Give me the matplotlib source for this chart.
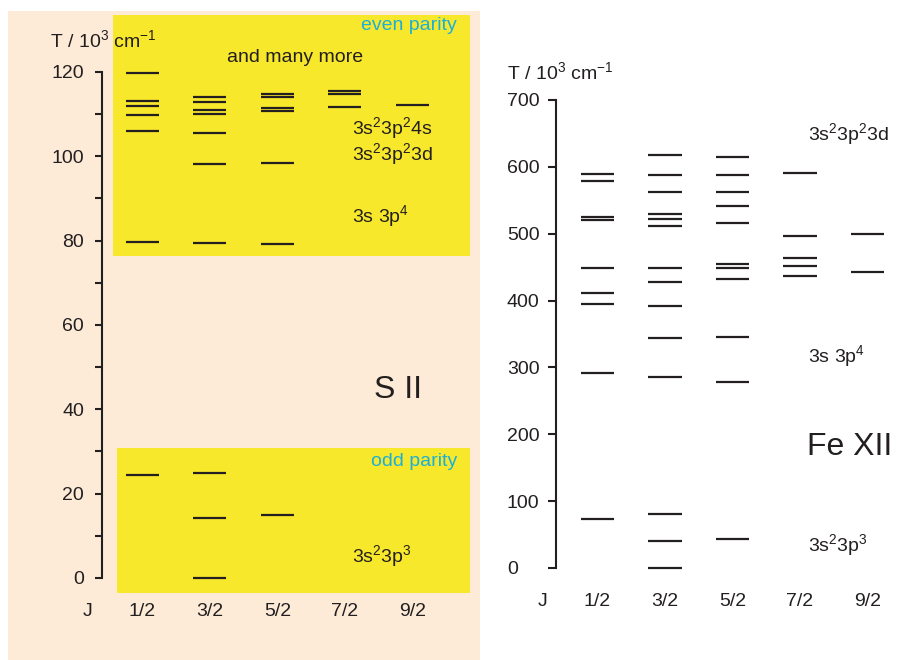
import matplotlib
matplotlib.use("Agg")
import matplotlib.pyplot as plt
from matplotlib.patches import Rectangle
from matplotlib.ticker import FixedLocator

plt.rcParams['font.family'] = ['Liberation Sans', 'DejaVu Sans']
plt.rcParams['mathtext.fontset'] = 'custom'
plt.rcParams['mathtext.rm'] = 'Liberation Sans'
plt.rcParams['mathtext.it'] = 'Liberation Sans'

W, H = 897, 660
PEACH = '#fdebd8'
YELLOW = '#f8e82c'
CYAN = '#1cb0d8'
INK = '#231f20'

j_labels = ['1/2', '3/2', '5/2', '7/2', '9/2']

# S II energy levels, 10^3 cm-1, one list per J
s2_odd = [[24.4], [0.0, 14.3, 25.0], [14.9], [], []]
s2_even = [[79.6, 106.0, 109.7, 112.0, 113.1, 119.8],
           [79.5, 98.2, 105.6, 110.0, 111.1, 112.9, 114.1],
           [79.2, 98.5, 110.7, 111.5, 114.1, 114.9],
           [111.8, 114.7, 115.6],
           [112.1]]

# Fe XII energy levels, 10^3 cm-1, one list per J
fe12 = [[74, 292, 395, 412, 448, 520.5, 524.5, 579, 590],
        [0, 41, 81, 285, 344, 392, 428, 449, 511, 522, 530, 562, 588, 618],
        [44, 278, 346, 433, 448, 455, 516, 541, 563, 588, 615],
        [437, 451, 463, 497, 591],
        [443, 499]]

s2_ticks = [0, 20, 40, 60, 80, 100, 120]
s2_minor = [10, 30, 50, 70, 90, 110]
fe12_ticks = [0, 100, 200, 300, 400, 500, 600, 700]


def make_axes(fig, box, x0, dx, y0, k):
    # box = pixel frame (left, top, right, bottom); J index i sits at x0 + dx*i, T=0 at y0, k px per unit
    l, t, r, b = box
    ax = fig.add_axes([l / W, 1 - b / H, (r - l) / W, (b - t) / H])
    ax.set_xlim((l - x0) / dx, (r - x0) / dx)
    ax.set_ylim((y0 - b) / k, (y0 - t) / k)
    return ax


def fig_text(fig, x, y, s, **kw):
    kw.setdefault('va', 'center')
    kw.setdefault('fontsize', 14)
    kw.setdefault('color', INK)
    fig.text(x / W, 1 - y / H, s, **kw)


def draw_levels(ax, levels):
    for i, vals in enumerate(levels):
        if vals:
            ax.hlines(vals, i - 0.245, i + 0.245, color=INK, lw=1.6, zorder=3)


def style_axis(ax, spine_x, top, ticks, tick_len, pad):
    for s in ['top', 'right', 'bottom']:
        ax.spines[s].set_visible(False)
    ax.spines['left'].set_position(('data', spine_x))
    ax.spines['left'].set_bounds(0, top)
    ax.spines['left'].set_linewidth(1.5)
    ax.spines['left'].set_color(INK)
    ax.set_xticks([])
    ax.set_yticks(ticks)
    ax.tick_params(axis='y', which='both', direction='out', length=tick_len,
                   width=1.5, color=INK, labelsize=14, labelcolor=INK, pad=pad)


fig = plt.figure(figsize=(W / 100, H / 100), dpi=100)

# ---- S II panel
ax1 = make_axes(fig, (8, 11, 480, 660), 142.3, 67.5, 578, 4.2167)
ax1.set_facecolor(PEACH)
ax1.add_patch(Rectangle((-0.43, 76.4), 5.29, 57.1, color=YELLOW, zorder=1, lw=0))
ax1.add_patch(Rectangle((-0.37, -3.6), 5.23, 34.4, color=YELLOW, zorder=1, lw=0))
draw_levels(ax1, s2_odd)
draw_levels(ax1, s2_even)
style_axis(ax1, (102 - 142.3) / 67.5, 120, s2_ticks, 5, 8)
ax1.yaxis.set_minor_locator(FixedLocator(s2_minor))

fig_text(fig, 50, 40, r'T / 10$^{\mathregular{3}}$ cm$^{\mathregular{-1}}$')
fig_text(fig, 295, 58, 'and many more', ha='center')
fig_text(fig, 457, 25, 'even parity', ha='right', color=CYAN)
fig_text(fig, 457, 462, 'odd parity', ha='right', color=CYAN)
fig_text(fig, 352, 128, r'$\mathregular{3s^23p^24s}$')
fig_text(fig, 352, 154, r'$\mathregular{3s^23p^23d}$')
fig_text(fig, 352, 216, r'$\mathregular{3s\ 3p^4}$')
fig_text(fig, 352, 556, r'$\mathregular{3s^23p^3}$')
fig_text(fig, 374, 390, 'S II', fontsize=23)
fig_text(fig, 88, 612, 'J', ha='center')
for i, lab in enumerate(j_labels):
    fig_text(fig, 142.3 + 67.5 * i, 612, lab, ha='center')

# ---- Fe XII panel
ax2 = make_axes(fig, (488, 0, 897, 660), 597.5, 67.5, 568, 468 / 700)
ax2.set_facecolor('none')
draw_levels(ax2, fe12)
style_axis(ax2, (556 - 597.5) / 67.5, 700, fe12_ticks, 5.8, 29.5)
for lab in ax2.get_yticklabels():
    lab.set_horizontalalignment('left')

fig_text(fig, 507, 72, r'T / 10$^{\mathregular{3}}$ cm$^{\mathregular{-1}}$')
fig_text(fig, 808, 134, r'$\mathregular{3s^23p^23d}$')
fig_text(fig, 808, 356, r'$\mathregular{3s\ 3p^4}$')
fig_text(fig, 808, 545, r'$\mathregular{3s^23p^3}$')
fig_text(fig, 807, 447, 'Fe XII', fontsize=23)
fig_text(fig, 543, 602, 'J', ha='center')
for i, lab in enumerate(j_labels):
    fig_text(fig, 597.5 + 67.5 * i, 602, lab, ha='center')

fig.savefig('out.png', dpi=100)
